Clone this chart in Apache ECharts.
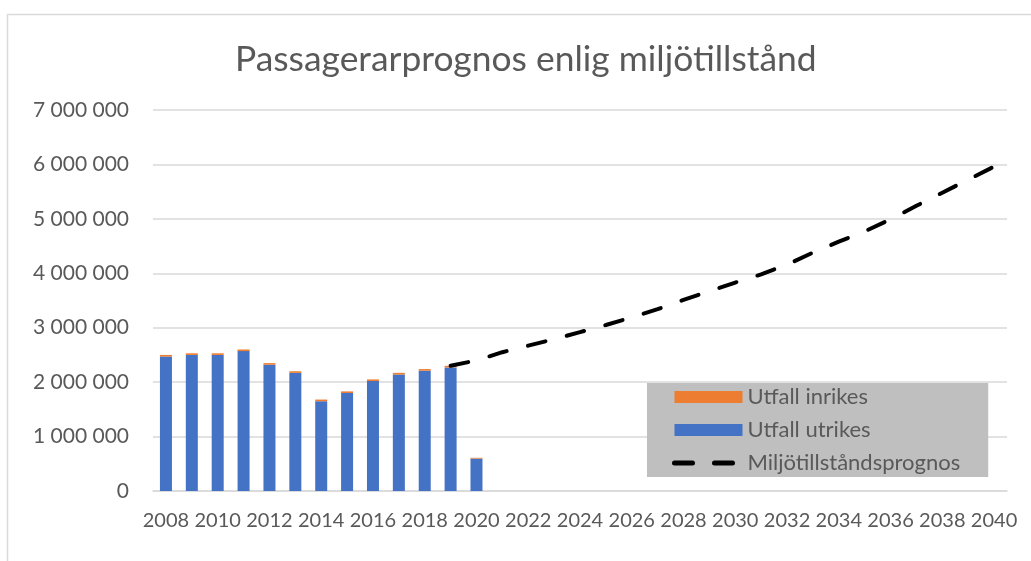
<!DOCTYPE html>
<html>
<head>
<meta charset="utf-8">
<script src="https://cdn.jsdelivr.net/npm/echarts@6/dist/echarts.min.js"></script>
<style>html,body{margin:0;padding:0;background:#fff;}#c{width:1031px;height:561px;}</style>
</head>
<body>
<div id="c"></div>
<script>
const years = ['2008','2009','2010','2011','2012','2013','2014','2015','2016','2017','2018','2019','2020','2021','2022','2023','2024','2025','2026','2027','2028','2029','2030','2031','2032','2033','2034','2035','2036','2037','2038','2039','2040'];
const utrikes = [2470000,2500000,2500000,2570000,2320000,2170000,1650000,1800000,2020000,2140000,2210000,2270000,595000];
const inrikes = [30000,30000,30000,30000,30000,30000,30000,30000,30000,30000,30000,30000,15000];
const prognosYears = ['2019','2020','2021','2022','2023','2024','2025','2026','2027','2028','2029','2030','2031','2032','2033','2034','2035','2036','2037','2038','2039','2040'];
const prognos = [2300000,2400000,2550000,2670000,2790000,2920000,3050000,3190000,3340000,3510000,3670000,3830000,3980000,4160000,4380000,4580000,4770000,4990000,5240000,5480000,5720000,5960000];
const yTickValues = [0,1000000,2000000,3000000,4000000,5000000,6000000,7000000];

const FONT = 'Lato';
const TXT = '#595959';
const prognosFull = years.map(y => { const i = prognosYears.indexOf(y); return i >= 0 ? prognos[i] : null; });
const fmt = v => String(v).replace(/\B(?=(\d{3})+(?!\d))/g, ' ');

const chart = echarts.init(document.getElementById('c'));
chart.setOption({
  animation: false,
  backgroundColor: '#fff',
  title: {
    text: 'Passagerarprognos enlig miljötillstånd',
    left: 230, top: 37,
    textStyle: {fontFamily: FONT, fontSize: 35.4, fontWeight: 'normal', color: TXT}
  },
  graphic: [{
    type: 'polyline', silent: true,
    shape: {points: [[7.5, 561], [7.5, 14.5], [1031, 14.5]]},
    style: {stroke: '#D9D9D9', lineWidth: 1.5, fill: null}
  }],
  legend: {
    orient: 'vertical', left: 647, top: 383,
    backgroundColor: '#BFBFBF',
    padding: [3, 28, 3, 25],
    itemWidth: 68, itemHeight: 12, itemGap: 11,
    textStyle: {fontFamily: FONT, fontSize: 22, color: TXT, lineHeight: 22},
    data: [
      {name: 'Utfall inrikes', icon: 'rect'},
      {name: 'Utfall utrikes', icon: 'rect'},
      {name: 'Miljötillståndsprognos', itemStyle: {opacity: 0, color: 'rgba(0,0,0,0)', borderWidth: 0},
        lineStyle: {color: '#000', width: 5, type: [18, 22], cap: 'round'}}
    ]
  },
  grid: {left: 153, right: 24, top: 110, bottom: 70, containLabel: false},
  xAxis: {
    type: 'category', data: years,
    axisLine: {show: true, lineStyle: {color: '#D9D9D9', width: 1.5}},
    axisTick: {show: false},
    axisLabel: {interval: 1, fontFamily: FONT, fontSize: 20, color: TXT, margin: 20}
  },
  yAxis: {
    type: 'value', min: 0, max: 7000000, interval: 1000000,
    axisLine: {show: false}, axisTick: {show: false},
    splitLine: {lineStyle: {color: '#D9D9D9', width: 1.5}},
    axisLabel: {fontFamily: FONT, fontSize: 21, color: TXT, margin: 24,
      formatter: v => yTickValues.includes(v) ? fmt(v) : ''}
  },
  series: [
    {name: 'Utfall utrikes', type: 'bar', stack: 'u', barWidth: 12, data: utrikes,
      itemStyle: {color: '#4472C4'}},
    {name: 'Utfall inrikes', type: 'bar', stack: 'u', barWidth: 12, data: inrikes,
      itemStyle: {color: '#ED7D31'}},
    {name: 'Miljötillståndsprognos', type: 'line', data: prognosFull, showSymbol: false, symbol: 'none',
      lineStyle: {color: '#000', width: 4, type: [18, 22], cap: 'round'},
      itemStyle: {color: '#000'}}
  ]
});
</script>
</body>
</html>
